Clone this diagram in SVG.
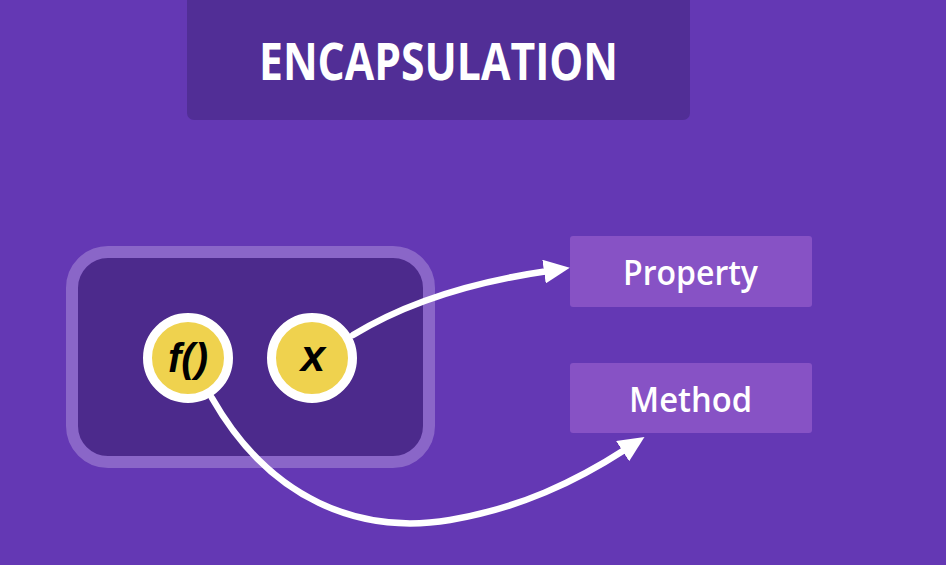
<svg xmlns="http://www.w3.org/2000/svg" width="946" height="565" viewBox="0 0 946 565">
  <style>
    .lbl { font-family: "Open Sans", "Noto Sans", sans-serif; fill: #ffffff; text-anchor: middle; }
    .sym { font-family: "Liberation Sans", "DejaVu Sans", sans-serif; font-weight: bold; font-style: italic; fill: #000000; text-anchor: middle; }
    .box { fill: #8752c5; }
    .ring { fill: #efd24e; stroke: #ffffff; stroke-width: 9; }
    .conn { fill: none; stroke: #ffffff; stroke-width: 6.5; stroke-linecap: round; marker-end: url(#arrow); }
  </style>
  <defs>
    <marker id="arrow" markerUnits="userSpaceOnUse" viewBox="0 0 26 24" markerWidth="26" markerHeight="24" refX="4" refY="12" orient="auto">
      <path d="M0,0 L26,12 L0,24 z" fill="#ffffff"/>
    </marker>
  </defs>
  <rect x="0" y="0" width="946" height="565" fill="#6438b4"/>
  <g id="title">
    <rect x="187" y="-10" width="503" height="130" rx="7" fill="#512e96"/>
    <text class="lbl" x="438.5" y="80" font-size="52" font-weight="bold" textLength="359" lengthAdjust="spacingAndGlyphs">ENCAPSULATION</text>
  </g>
  <g id="object">
    <rect x="72" y="252" width="357" height="210" rx="36" fill="#4c2a8c" stroke="#8a66c8" stroke-width="12"/>
  </g>
  <g id="connectors">
    <path class="conn" d="M353,335 Q430,288 548,271"/>
    <path class="conn" d="M212,398 C270,500 360,535 450,520 C520,508 575,482 626,449"/>
  </g>
  <g id="method-symbol">
    <circle class="ring" cx="188" cy="358" r="40.5"/>
    <text class="sym" x="188" y="372" font-size="40">f()</text>
  </g>
  <g id="property-symbol">
    <circle class="ring" cx="312" cy="358" r="40.5"/>
    <text class="sym" x="313" y="371" font-size="44">x</text>
  </g>
  <g id="property">
    <rect class="box" x="570" y="236" width="242" height="71" rx="3"/>
    <text class="lbl" x="690.5" y="285" font-size="34" font-weight="600" textLength="135" lengthAdjust="spacingAndGlyphs">Property</text>
  </g>
  <g id="method">
    <rect class="box" x="570" y="363" width="242" height="70" rx="3"/>
    <text class="lbl" x="690.5" y="412" font-size="34" font-weight="600" textLength="123" lengthAdjust="spacingAndGlyphs">Method</text>
  </g>
</svg>
